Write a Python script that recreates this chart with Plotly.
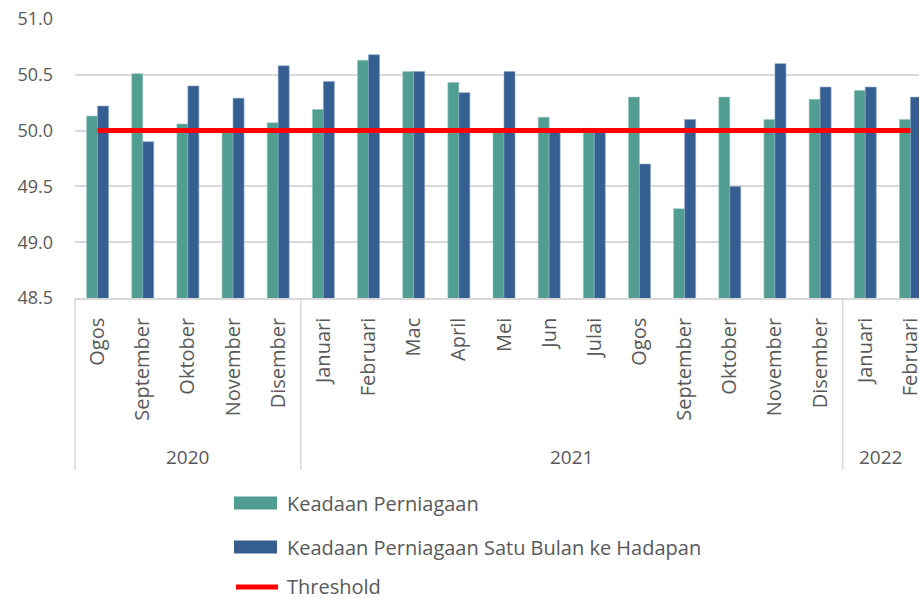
import plotly.graph_objects as go

months = ["Ogos", "September", "Oktober", "November", "Disember",
          "Januari", "Februari", "Mac", "April", "Mei", "Jun", "Julai",
          "Ogos", "September", "Oktober", "November", "Disember",
          "Januari", "Februari"]
years = ["2020", "2021", "2022"]
year_counts = [5, 12, 2]

keadaan = [50.13, 50.51, 50.06, 50.00, 50.07,
           50.19, 50.63, 50.53, 50.43, 50.00, 50.12, 50.02,
           50.30, 49.30, 50.30, 50.10, 50.28,
           50.36, 50.10]
keadaan_depan = [50.22, 49.90, 50.40, 50.29, 50.58,
                 50.44, 50.68, 50.53, 50.34, 50.53, 50.00, 50.00,
                 49.70, 50.10, 49.50, 50.60, 50.39,
                 50.39, 50.30]
threshold = [50.0] * len(months)

TEAL = "#519D92"
BLUE = "#365F91"
RED = "#FF0000"
GRID = "#D9D9D9"
TXT = "#595959"
FONT = "Open Sans"

W, H = 919, 599
L, R, T, B = 75, 0, 19, 301
pw, ph = W - L - R, H - T - B

xs = list(range(len(months)))
xmin, xmax = -0.5, 18.19


def px2xp(px):
    return (px - L) / pw


def py2yp(py):
    return (H - B - py) / ph


def x2xp(x):
    return (x - xmin) / (xmax - xmin)


fig = go.Figure()
fig.add_trace(go.Bar(x=xs, y=keadaan, name="Keadaan Perniagaan",
                     marker=dict(color=TEAL, line=dict(color="#9cc7c0", width=0.6))))
fig.add_trace(go.Bar(x=xs, y=keadaan_depan, name="Keadaan Perniagaan Satu Bulan ke Hadapan",
                     marker=dict(color=BLUE, line=dict(color="#8aa3c4", width=0.6))))
fig.add_trace(go.Scatter(x=xs, y=threshold, name="Threshold", mode="lines",
                         line=dict(color=RED, width=5)))

shapes = []
annotations = []

# year dividers and labels
start = 0
bounds = [xmin]
for yr, cnt in zip(years, year_counts):
    end = start + cnt
    bounds.append(end - 0.5)
    start = end
for b in bounds:
    if b <= xmax:
        xp = x2xp(b)
        shapes.append(dict(type="line", xref="paper", yref="paper", x0=xp, x1=xp,
                           y0=0, y1=py2yp(470), line=dict(color=GRID, width=1.5)))
for i, yr in enumerate(years):
    a, b = bounds[i], min(bounds[i + 1], xmax)
    annotations.append(dict(text=yr, xref="paper", yref="paper",
                            x=x2xp((a + b) / 2), y=py2yp(457), showarrow=False,
                            xanchor="center", yanchor="middle",
                            font=dict(family=FONT, size=19, color=TXT)))

# custom legend
leg_rows = [(503, "Keadaan Perniagaan", TEAL, "rect"),
            (547, "Keadaan Perniagaan Satu Bulan ke Hadapan", BLUE, "rect"),
            (587, "Threshold", RED, "line")]
for py, label, col, kind in leg_rows:
    if kind == "rect":
        shapes.append(dict(type="rect", xref="paper", yref="paper",
                           x0=px2xp(234), x1=px2xp(277), y0=py2yp(py - 6.5), y1=py2yp(py + 6.5),
                           fillcolor=col, line=dict(width=0)))
    else:
        shapes.append(dict(type="line", xref="paper", yref="paper",
                           x0=px2xp(236), x1=px2xp(278), y0=py2yp(py), y1=py2yp(py),
                           line=dict(color=col, width=5)))
    annotations.append(dict(text=label, xref="paper", yref="paper",
                            x=px2xp(285), y=py2yp(py), showarrow=False,
                            xanchor="left", yanchor="middle",
                            font=dict(family=FONT, size=20, color=TXT)))

fig.update_layout(
    width=W, height=H,
    margin=dict(l=L, r=R, t=T, b=B, pad=0, autoexpand=False),
    paper_bgcolor="white", plot_bgcolor="white",
    barmode="group", bargap=0.513, bargroupgap=0,
    showlegend=False,
    shapes=shapes, annotations=annotations,
    font=dict(family=FONT, color=TXT),
)
fig.update_xaxes(range=[xmin, xmax], tickmode="array", tickvals=xs, ticktext=months,
                 tickangle=-90, showgrid=False, zeroline=False, automargin=False,
                 showline=True, linecolor=GRID, linewidth=1.5,
                 ticks="", ticklabelstandoff=10, ticklabeloverflow="allow",
                 tickfont=dict(family=FONT, size=20, color=TXT))
fig.update_yaxes(range=[48.5, 51.0], tickmode="array", automargin=False,
                 tickvals=[48.5, 49.0, 49.5, 50.0, 50.5, 51.0],
                 ticktext=["48.5", "49.0", "49.5", "50.0", "50.5", "51.0"],
                 showgrid=True, gridcolor=GRID, gridwidth=1.5, zeroline=False,
                 showline=False, ticks="", ticklabelstandoff=21,
                 tickfont=dict(family=FONT, size=18, color=TXT))

fig.write_html("out.html", config={"displayModeBar": False},
               post_script="document.body.style.margin='0';document.body.style.overflow='hidden';")
